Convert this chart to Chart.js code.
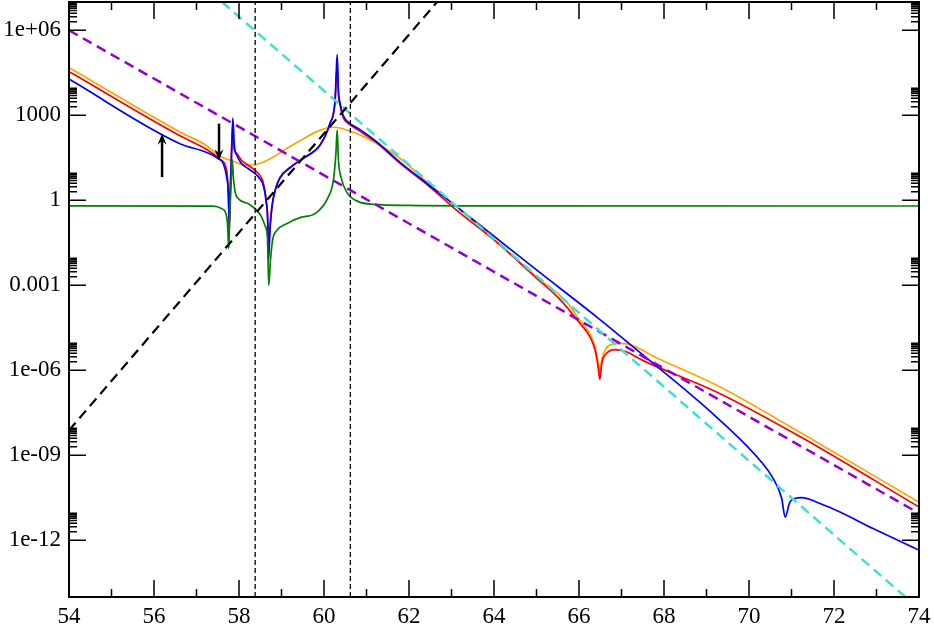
<!DOCTYPE html>
<html>
<head>
<meta charset="utf-8">
<script src="https://cdn.jsdelivr.net/npm/chart.js@4.4.0/dist/chart.umd.min.js"></script>
<style>
  html, body { margin: 0; padding: 0; background: #fff; }
</style>
</head>
<body>
<canvas id="chart" width="934" height="625"></canvas>
<script>
// Axis ranges and tick labels
const xMin = 54, xMax = 74;
const yMin = 1e-14, yMax = 1e7;
const xTicks = [54, 56, 58, 60, 62, 64, 66, 68, 70, 72, 74];
const yTicks = [1e-12, 1e-9, 1e-6, 1e-3, 1, 1e3, 1e6];
const yTickLabels = ['1e-12', '1e-09', '1e-06', '0.001', '1', '1000', '1e+06'];

// Solid curves, [x, y] pairs
const orange = [
  [54.00, 4.9e4], [56.61, 2.6e2], [57.24, 85], [57.55, 36], [57.87, 24],
  [58.18, 17], [58.49, 20], [58.80, 33], [59.10, 65], [59.45, 1.3e2], [59.79, 2.5e2],
  [60.05, 3.5e2], [60.21, 3.8e2], [60.40, 3.5e2], [60.57, 2.9e2], [60.96, 1.7e2], [61.20, 1.1e2],
  [61.79, 30], [62.50, 3.5], [63.08, 0.66], [64.00, 0.042], [65.00, 2e-3], [65.71, 2.6e-4],
  [66.02, 5.8e-5], [66.26, 1.9e-5], [66.38, 6.5e-6], [66.45, 1.9e-6], [66.48, 7.8e-7],
  [66.54, 2.6e-6], [66.64, 6e-6], [66.80, 8.6e-6], [67.00, 9e-6], [67.91, 2.4e-6],
  [69.32, 2.6e-7], [71.20, 6.5e-9], [74.00, 2.2e-11]
];

const red = [
  [54.00, 3.5e4], [56.61, 1.9e2], [57.24, 62], [57.55, 28], [57.69, 15],
  [57.73, 6], [57.76, 0.5], [57.775, 0.1], [57.80, 2], [57.845, 4e2], [57.88, 70], [57.95, 45],
  [58.06, 26], [58.22, 17], [58.38, 11.5], [58.49, 7.6], [58.57, 4.3], [58.64, 1.0],
  [58.68, 0.12], [58.69, 0.01], [58.73, 0.12], [58.78, 0.7], [58.85, 2.3], [58.96, 6.3],
  [59.20, 14.5], [59.51, 31], [59.91, 92], [60.14, 500], [60.26, 3e3], [60.31, 5e4],
  [60.34, 5e3], [60.38, 2.2e3], [60.45, 850], [60.57, 5.2e2], [60.81, 3.0e2], [61.20, 1.2e2],
  [61.79, 20], [62.50, 2.9], [63.08, 0.5], [64.00, 0.04], [65.00, 1.8e-3], [65.55, 3.2e-4],
  [66.02, 4.6e-5], [66.26, 1.5e-5], [66.38, 5.1e-6], [66.45, 1.3e-6], [66.49, 4.8e-7],
  [66.54, 1.9e-6], [66.65, 4e-6], [66.85, 5.4e-6], [67.08, 4.7e-6], [67.51, 2.2e-6],
  [69.32, 1.5e-7], [71.27, 4e-9], [74.00, 1.5e-11]
];

const blue = [
  [54.00, 1.9e4], [56.61, 1.0e2], [57.24, 49], [57.51, 30], [57.63, 20],
  [57.71, 6.6], [57.75, 1.7], [57.77, 0.13], [57.79, 2], [57.83, 60], [57.855, 800],
  [57.89, 87], [57.95, 39], [58.06, 20], [58.22, 13], [58.38, 8.7], [58.49, 5.8], [58.57, 3.4],
  [58.64, 0.87], [58.68, 0.1], [58.69, 7e-3], [58.73, 0.1], [58.78, 0.66], [58.85, 2.2],
  [58.96, 6], [59.20, 14], [59.51, 30], [59.91, 90], [60.14, 510], [60.26, 3.4e3],
  [60.29, 3.9e4], [60.31, 1.4e5], [60.34, 7.6e3], [60.38, 2.6e3], [60.45, 1.0e3], [60.57, 580],
  [60.81, 340], [61.20, 130], [61.79, 22], [62.50, 3.2], [63.08, 0.66], [64.00, 0.054],
  [65.00, 3.5e-3], [66.42, 7.6e-5], [67.44, 4.2e-6], [69.24, 2.2e-8], [70.26, 6.6e-10],
  [70.57, 1.5e-10], [70.77, 3e-11], [70.85, 6.6e-12], [70.96, 2.2e-11], [71.08, 3e-11],
  [71.24, 3.2e-11], [71.67, 2e-11], [72.14, 1e-11], [72.92, 2.6e-12], [74.00, 4.5e-13]
];

const green = [
  [54.00, 0.64], [57.39, 0.62], [57.59, 0.51], [57.69, 0.35], [57.73, 0.15], [57.76, 0.02],
  [57.78, 0.3], [57.81, 3], [57.84, 28], [57.87, 5.8], [57.91, 1.96], [57.98, 1.15],
  [58.22, 0.76], [58.42, 0.44], [58.53, 0.26], [58.61, 0.13], [58.67, 0.045], [58.70, 1e-3],
  [58.74, 7.6e-3], [58.79, 0.039], [58.89, 0.087], [59.12, 0.15], [59.45, 0.25], [59.79, 0.34],
  [60.10, 1.3], [60.22, 5.1], [60.28, 45], [60.31, 300], [60.34, 26], [60.40, 6.6],
  [60.53, 2.0], [60.81, 0.9], [61.20, 0.72], [62.00, 0.66], [63.20, 0.64], [74.00, 0.63]
];

// Dashed straight guides (end points only)
const purpleLine = [[54.00, 1e6], [74.00, 9e-12]];
const cyanLine = [[57.60, 1e7], [73.68, 1e-14]];
const blackLine = [[54.00, 7.6e-9], [62.66, 1e7]];
const vLineX = [58.38, 60.62];

// Arrows: x position, tail value, head value
const arrowX = [56.19, 57.53];
const arrowFrom = [6.6, 510];
const arrowTo = [225, 26];

const toXY = pairs => pairs.map(p => ({ x: p[0], y: p[1] }));
const serif = "'Liberation Serif', 'Times New Roman', serif";

// Inward ticks on all four sides, frame, and the two arrows
const framePlugin = {
  id: 'frame',
  afterDatasetsDraw(chart) {
    const { ctx, chartArea: a, scales: { x, y } } = chart;
    ctx.save();
    ctx.strokeStyle = '#000';
    ctx.lineWidth = 1.5;
    ctx.beginPath();
    for (let v = xMin; v <= xMax; v++) {
      const px = x.getPixelForValue(v);
      const len = v % 2 === 0 ? 17 : 8;
      ctx.moveTo(px, a.bottom); ctx.lineTo(px, a.bottom - len);
      ctx.moveTo(px, a.top); ctx.lineTo(px, a.top + len);
    }
    yTicks.forEach(m => {
      for (let n = 1; n <= 9; n++) {
        const py = y.getPixelForValue(m * n);
        const len = n === 1 ? 17 : 8;
        ctx.moveTo(a.left, py); ctx.lineTo(a.left + len, py);
        ctx.moveTo(a.right, py); ctx.lineTo(a.right - len, py);
      }
    });
    ctx.stroke();
    ctx.lineWidth = 2;
    ctx.strokeRect(a.left, a.top, a.right - a.left, a.bottom - a.top);

    // arrows
    ctx.lineWidth = 2.5;
    ctx.fillStyle = '#000';
    arrowX.forEach((xv, i) => {
      const px = x.getPixelForValue(xv);
      const p0 = y.getPixelForValue(arrowFrom[i]);
      const p1 = y.getPixelForValue(arrowTo[i]);
      const dir = p1 < p0 ? -1 : 1;
      ctx.beginPath();
      ctx.moveTo(px, p0);
      ctx.lineTo(px, p1 - dir * 6);
      ctx.stroke();
      ctx.beginPath();
      ctx.moveTo(px, p1);
      ctx.lineTo(px - 4.5, p1 - dir * 11);
      ctx.lineTo(px, p1 - dir * 7);
      ctx.lineTo(px + 4.5, p1 - dir * 11);
      ctx.closePath();
      ctx.fill();
    });
    ctx.restore();
  }
};

const curve = (data, color, order) => ({
  data: toXY(data),
  borderColor: color,
  borderWidth: 1.7,
  pointRadius: 0,
  cubicInterpolationMode: 'monotone',
  order
});

const dashed = (data, color, width, dash, order) => ({
  data: toXY(data),
  borderColor: color,
  borderWidth: width,
  borderDash: dash,
  pointRadius: 0,
  order
});

new Chart(document.getElementById('chart'), {
  type: 'line',
  data: {
    datasets: [
      curve(orange, '#ffa500', 8),
      curve(red, '#ff0000', 7),
      curve(blue, '#0000ff', 6),
      curve(green, '#008000', 5),
      dashed(purpleLine, '#9400d3', 2.5, [10, 6], 4),
      dashed(cyanLine, '#40e0d0', 2.5, [10, 6], 3),
      dashed(blackLine, '#000000', 2.2, [10, 6], 2),
      ...vLineX.map(v => dashed([[v, yMin], [v, yMax]], '#000000', 1.3, [5, 3], 1))
    ]
  },
  options: {
    responsive: false,
    animation: false,
    layout: { padding: { top: 2, right: 15, left: 0, bottom: 0 } },
    plugins: { legend: { display: false }, tooltip: { enabled: false } },
    scales: {
      x: {
        type: 'linear',
        min: xMin,
        max: xMax,
        grid: { display: false, drawTicks: false },
        border: { display: false },
        afterBuildTicks: s => { s.ticks = xTicks.map(v => ({ value: v })); },
        afterFit: s => { s.height = 28; s.paddingLeft = 0; s.paddingRight = 0; },
        ticks: {
          padding: 6,
          color: '#000',
          font: { family: serif, size: 23 },
          callback: v => String(v)
        }
      },
      y: {
        type: 'logarithmic',
        min: yMin,
        max: yMax,
        grid: { display: false, drawTicks: false },
        border: { display: false },
        afterBuildTicks: s => { s.ticks = yTicks.map(v => ({ value: v })); },
        afterFit: s => { s.width = 69; s.paddingTop = 0; s.paddingBottom = 0; },
        ticks: {
          padding: 8,
          color: '#000',
          font: { family: serif, size: 23 },
          callback: (v, i) => yTickLabels[i]
        }
      }
    }
  },
  plugins: [framePlugin]
});
</script>
</body>
</html>
